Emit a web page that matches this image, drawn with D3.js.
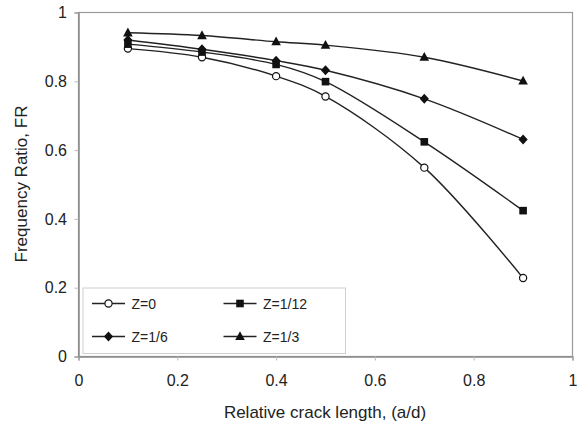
<!DOCTYPE html>
<html><head><meta charset="utf-8">
<script src="https://cdn.jsdelivr.net/npm/d3@7"></script>
<style>body{margin:0;background:#fff}svg{display:block}text{font-family:"Liberation Sans",Arial,sans-serif;fill:#222}</style>
</head><body><svg id="c" width="581" height="427"></svg>
<script>
const xValues = [0.1, 0.25, 0.4, 0.5, 0.7, 0.9];
const seriesNames = ["Z=0", "Z=1/12", "Z=1/6", "Z=1/3"];
const z0 = [0.895, 0.870, 0.815, 0.756, 0.549, 0.228];
const z12 = [0.908, 0.885, 0.849, 0.799, 0.624, 0.424];
const z6 = [0.920, 0.893, 0.860, 0.832, 0.749, 0.631];
const z3 = [0.941, 0.933, 0.915, 0.905, 0.870, 0.801];
const xTicks = [0, 0.2, 0.4, 0.6, 0.8, 1];
const yTicks = [0, 0.2, 0.4, 0.6, 0.8, 1];
const markerTypes = ["circle", "square", "diamond", "triangle"];

const series = [z0, z12, z6, z3].map((v, i) => ({name: seriesNames[i], values: v, marker: markerTypes[i]}));

const svg = d3.select("#c");
const L = 78.5, R = 572.5, T = 12.5, B = 356.5;
const x = d3.scaleLinear().domain([0, 1]).range([L, R]);
const y = d3.scaleLinear().domain([0, 1]).range([B, T]);
const axisCol = "#8a8a8a";

// frame
svg.append("rect").attr("x", L).attr("y", T).attr("width", R - L).attr("height", B - T)
  .attr("fill", "none").attr("stroke", "#9a9a9a").attr("stroke-width", 1.2);

const xAxis = svg.append("g").attr("transform", `translate(0,${B})`)
  .call(d3.axisBottom(x).tickValues(xTicks).tickFormat(d3.format("~g")).tickSize(4).tickPadding(14));
const yAxis = svg.append("g").attr("transform", `translate(${L},0)`)
  .call(d3.axisLeft(y).tickValues(yTicks).tickFormat(d3.format("~g")).tickSize(4).tickPadding(7.5));
[xAxis, yAxis].forEach(a => {
  a.select(".domain").attr("stroke", axisCol).attr("stroke-width", 1.5);
  a.selectAll(".tick line").attr("stroke", "#bbb");
  a.selectAll("text").attr("font-size", 16).attr("fill", "#222").style("font-family", '"Liberation Sans",Arial,sans-serif');
});

svg.append("text").attr("x", 325).attr("y", 418).attr("text-anchor", "middle")
  .attr("font-size", 17).text("Relative crack length, (a/d)");
svg.append("text").attr("transform", "translate(26.7,184) rotate(-90)").attr("text-anchor", "middle")
  .attr("font-size", 17).text("Frequency Ratio, FR");

function drawMarker(g, type, cx, cy) {
  if (type === "circle") {
    g.append("circle").attr("cx", cx).attr("cy", cy).attr("r", 3.6).attr("fill", "#fff").attr("stroke", "#111").attr("stroke-width", 1.2);
  } else if (type === "square") {
    g.append("rect").attr("x", cx - 3.8).attr("y", cy - 3.8).attr("width", 7.6).attr("height", 7.6).attr("fill", "#111");
  } else if (type === "diamond") {
    g.append("path").attr("d", `M${cx},${cy - 5}L${cx + 4.6},${cy}L${cx},${cy + 5}L${cx - 4.6},${cy}Z`).attr("fill", "#111");
  } else {
    g.append("path").attr("d", `M${cx},${cy - 5.2}L${cx + 4.8},${cy + 3.6}L${cx - 4.8},${cy + 3.6}Z`).attr("fill", "#111");
  }
}

const line = d3.line().x((d, i) => x(xValues[i])).y(d => y(d)).curve(d3.curveCatmullRom.alpha(0.5));
series.forEach(s => {
  svg.append("path").attr("d", line(s.values)).attr("fill", "none").attr("stroke", "#222").attr("stroke-width", 1.4);
});
series.forEach(s => {
  const g = svg.append("g");
  s.values.forEach((v, i) => drawMarker(g, s.marker, x(xValues[i]), y(v)));
});

// legend
const lg = svg.append("g");
lg.append("rect").attr("x", 83).attr("y", 288).attr("width", 262.5).attr("height", 65.5)
  .attr("fill", "#fff").attr("stroke", "#cfcfcf").attr("stroke-width", 1);
const legendPos = [[92, 303.5], [223.5, 303.5], [92, 336.5], [223.5, 336.5]];
series.forEach((s, i) => {
  const [lx, ly] = legendPos[i];
  lg.append("line").attr("x1", lx).attr("x2", lx + 33).attr("y1", ly).attr("y2", ly).attr("stroke", "#222").attr("stroke-width", 1.4);
  drawMarker(lg, s.marker, lx + 16.5, ly);
  lg.append("text").attr("x", lx + 39.5).attr("y", ly + 5).attr("font-size", 14).text(s.name);
});
</script></body></html>
